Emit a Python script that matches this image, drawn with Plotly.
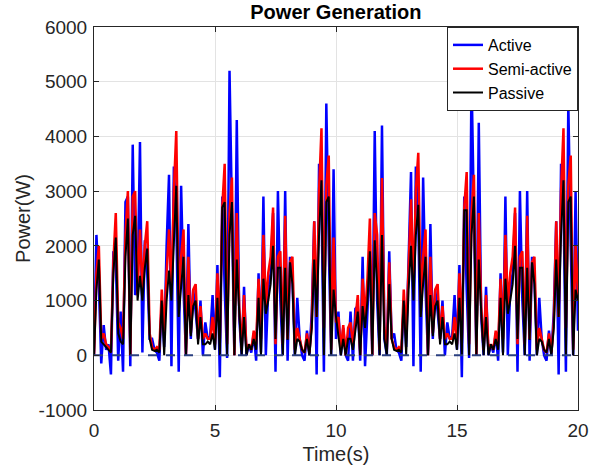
import plotly.graph_objects as go

DT = 0.1
time_s = [round(i * DT, 1) for i in range(201)]

active = [
    0, 2200, 1300, -150, 550, 100, 200, -350, 1900, 1800,
    -100, 800, -300, 2800, 2900, -200, 3850, 1100, 1200, 3900,
    50, 2100, 1500, 300, 300, 100, 50, -100, 1000, 150,
    2000, 3300, -200, 3450, 2500, -300, 3100, 1200, 0, 2400,
    300, 1200, 800, 300, 1000, 0, 600, 300, 350, 1100,
    100, 1650, -400, 2900, 1200, -50, 5200, 2500, 0, 4300,
    700, 0, 1250, 0, 200, 50, 400, -100, 1500, 50,
    2900, 0, 1200, 1500, 2600, -300, 3000, 1000, 0, 3000,
    -100, 1800, 1400, 0, 1050, 300, 0, -100, 450, 0,
    800, 2450, -350, 3500, 2800, -300, 4600, 2000, 0, 3400,
    300, 800, 0, 500, 0, -100, 800, -100, 850, 900,
    -100, 1800, -200, 800, 1900, 0, 4100, 1000, 0, 4200,
    300, 0, 1900, 300, 400, 100, 50, -100, 1000, 150,
    2000, 3350, -200, 3450, 2500, -300, 3250, 1200, 0, 2400,
    300, 1200, 800, 300, 1000, 0, 600, 300, 350, 1100,
    100, 1650, -400, 2900, 1200, -50, 5100, 2500, 0, 4250,
    700, 0, 1250, 0, 200, 50, 400, -100, 1500, 50,
    2900, 0, 1200, 1500, 2600, -300, 3000, 1000, 0, 3000,
    -100, 1800, 1400, 0, 1050, 300, 0, -100, 450, 0,
    800, 2450, -350, 3500, 2800, -300, 4600, 2000, 0, 3000,
    450,
]

semi_active = [
    0, 1500, 2000, 300, 400, 200, 150, 50, 1700, 2600,
    600, 500, 300, 2200, 3000, 0, 2900, 3000, 1100, 2300,
    1200, 2000, 2450, 400, 150, 100, 150, 100, 1200, 400,
    1500, 2300, 1200, 3000, 4100, 1000, 1800, 2300, 0, 1800,
    400, 1200, 1300, 300, 900, 300, 400, 300, 300, 700,
    200, 1500, 300, 2700, 3500, 200, 2600, 3250, 0, 2600,
    900, 100, 1100, 100, 200, 100, 450, 200, 1400, 300,
    2200, 900, 1500, 1800, 2700, 200, 1800, 1900, 200, 2550,
    300, 1700, 1800, 100, 500, 300, 100, 50, 400, 50,
    600, 2450, 700, 3000, 4150, 500, 3100, 3650, 100, 2150,
    600, 700, 100, 550, 0, 500, 600, 200, 700, 1100,
    0, 1400, 700, 1400, 2500, 0, 2600, 2200, 100, 3240,
    500, 100, 1700, 300, 150, 100, 150, 100, 1200, 400,
    1600, 2850, 1200, 3000, 3700, 1000, 1800, 2300, 0, 1800,
    400, 1200, 1300, 300, 900, 300, 400, 300, 300, 700,
    200, 1500, 300, 2700, 3350, 200, 2600, 3300, 0, 2600,
    900, 100, 1100, 100, 200, 100, 450, 200, 1400, 300,
    2200, 900, 1500, 1800, 2700, 200, 1800, 1900, 200, 2550,
    300, 1700, 1800, 100, 500, 300, 100, 50, 400, 50,
    600, 2450, 700, 3000, 4150, 500, 3100, 3650, 100, 2000,
    1100,
]

passive = [
    0, 1200, 1750, 250, 200, 150, 100, 50, 1500, 2150,
    400, 250, 200, 1800, 2500, 0, 2200, 2550, 1000, 1450,
    1000, 1600, 1950, 300, 100, 80, 100, 50, 1000, 0,
    1000, 1550, 1000, 2200, 3100, 700, 1300, 1800, 0, 1100,
    350, 900, 1000, 200, 700, 200, 200, 250, 200, 400,
    100, 1050, 0, 2700, 2800, 0, 2200, 2800, 0, 1750,
    800, 0, 700, 0, 200, 100, 300, 100, 1050, 0,
    1400, 760, 1000, 1300, 2000, 300, 1600, 1600, 0, 1600,
    280, 1700, 1300, 0, 300, 250, 100, 50, 300, 0,
    500, 1750, 700, 2200, 3200, 0, 2800, 2900, 0, 1200,
    700, 300, 0, 300, 0, 300, 300, 100, 500, 800,
    0, 900, 500, 1000, 1900, 0, 2100, 1300, 0, 2200,
    300, 0, 1300, 300, 100, 80, 100, 50, 1000, 0,
    1200, 2000, 1000, 2200, 2750, 700, 1300, 1800, 0, 1100,
    350, 900, 1000, 200, 700, 200, 200, 250, 200, 400,
    100, 1050, 0, 2650, 2650, 0, 2200, 2900, 0, 1750,
    800, 0, 700, 0, 200, 100, 300, 100, 1050, 0,
    1400, 760, 1000, 1300, 2000, 300, 1600, 1600, 0, 1600,
    280, 1700, 1300, 0, 300, 250, 100, 50, 300, 0,
    500, 1750, 700, 2200, 3200, 0, 2800, 2900, 0, 1200,
    1000,
]

zero_line_x = [0, 20]
zero_line_y = [0, 0]

x_ticks = [0, 5, 10, 15, 20]
x_tick_labels = ["0", "5", "10", "15", "20"]
y_ticks = [-1000, 0, 1000, 2000, 3000, 4000, 5000, 6000]
y_tick_labels = ["-1000", "0", "1000", "2000", "3000", "4000", "5000", "6000"]

FONT = "Arial, 'Liberation Sans', Helvetica, sans-serif"
AXC = "#262626"

fig = go.Figure()
fig.add_trace(go.Scatter(x=time_s, y=active, mode="lines", name="Active",
                         line=dict(color="#0000ff", width=2.5)))
fig.add_trace(go.Scatter(x=time_s, y=semi_active, mode="lines", name="Semi-active",
                         line=dict(color="#ff0000", width=2.5)))
fig.add_trace(go.Scatter(x=time_s, y=passive, mode="lines", name="Passive",
                         line=dict(color="#000000", width=2)))
fig.add_trace(go.Scatter(x=zero_line_x, y=zero_line_y, mode="lines", showlegend=False,
                         line=dict(color="#2a3f80", width=2, dash="dash")))

fig.update_layout(
    width=603, height=471,
    margin=dict(l=94, r=25, t=27, b=61, autoexpand=False),
    paper_bgcolor="white", plot_bgcolor="white",
    font=dict(family=FONT, size=19, color=AXC),
    title=dict(text="<b>Power Generation</b>", x=0.557, xanchor="center",
               y=0.975, yanchor="middle",
               font=dict(family=FONT, size=20, color="black")),
    showlegend=True,
    legend=dict(x=1, y=1, xanchor="right", yanchor="top",
                bgcolor="white", bordercolor=AXC, borderwidth=1,
                font=dict(family=FONT, size=16, color="black"),
                itemwidth=30, tracegroupgap=0),
)
fig.update_xaxes(
    range=[0, 20], tickvals=x_ticks, ticktext=x_tick_labels,
    showgrid=True, gridcolor="#e3e3e3", gridwidth=1,
    showline=True, linecolor=AXC, linewidth=1, mirror="ticks",
    ticks="inside", ticklen=5, tickcolor=AXC, zeroline=False,
    tickfont=dict(size=19, color=AXC), ticklabelstandoff=3, automargin=False,
    title=dict(text="Time(s)", font=dict(size=20, color=AXC), standoff=7),
)
fig.update_yaxes(
    range=[-1000, 6000], tickvals=y_ticks, ticktext=y_tick_labels,
    showgrid=True, gridcolor="#e3e3e3", gridwidth=1,
    showline=True, linecolor=AXC, linewidth=1, mirror="ticks",
    ticks="inside", ticklen=5, tickcolor=AXC, zeroline=False,
    tickfont=dict(size=19, color=AXC), ticklabelstandoff=2, automargin=False,
    title=dict(text="Power(W)", font=dict(size=20, color=AXC), standoff=2),
)

fig.write_html("out.html")
